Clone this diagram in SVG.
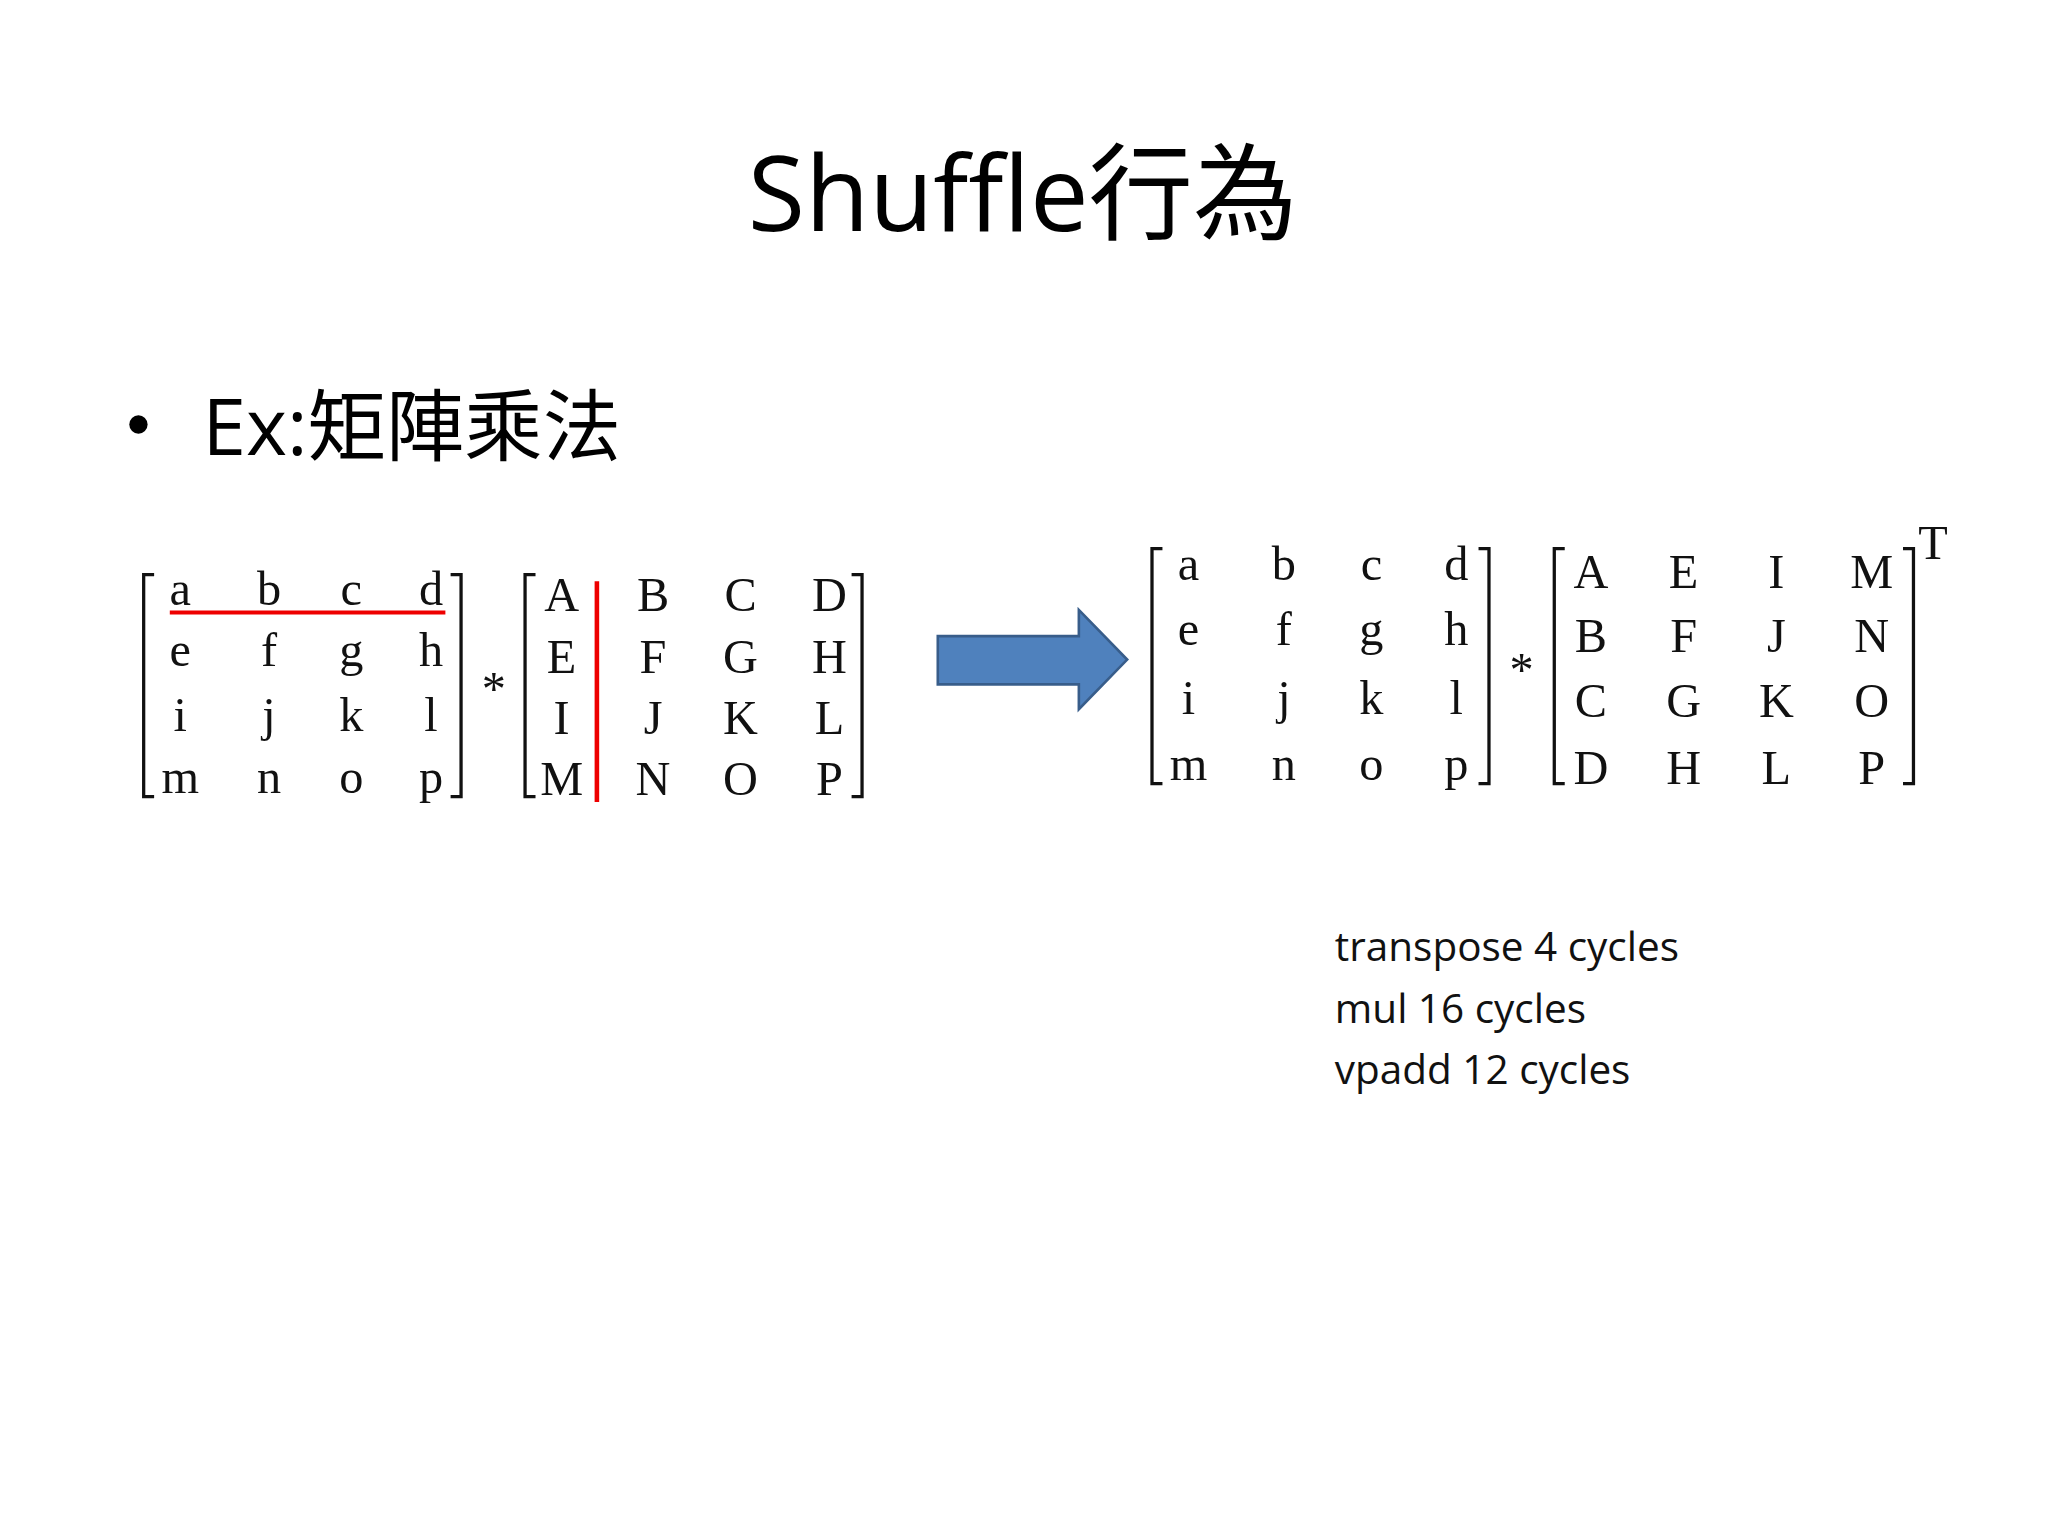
<svg xmlns="http://www.w3.org/2000/svg" width="2048" height="1536" viewBox="0 0 2048 1536">
<style>
.m{font-family:"Liberation Serif","DejaVu Serif",serif;font-size:37px;fill:#111;text-anchor:middle}
.br{fill:none;stroke:#111;stroke-width:2.5}
.t{font-family:"Open Sans","Noto Sans CJK TC",sans-serif;fill:#000}
.n{font-family:"Open Sans",sans-serif;font-size:31px;fill:#111}
</style>
<rect width="2048" height="1536" fill="#fff"/>
<g transform="scale(1.30612)">
<g id="title"><text class="t" x="783" y="177" font-size="80" text-anchor="middle">Shuffle行為</text></g>
<g id="bullet"><circle cx="106" cy="325" r="7" fill="#000"/><text class="t" x="155" y="348" font-size="60">Ex:矩陣乘法</text></g>
<g id="matrixA">
<path class="br" d="M118 440H110V610H118M345 440H353V610H345"/>
<text class="m"><tspan x="138" y="463">a</tspan><tspan x="206" y="463">b</tspan><tspan x="269" y="463">c</tspan><tspan x="330" y="463">d</tspan></text>
<text class="m"><tspan x="138" y="510">e</tspan><tspan x="206" y="510">f</tspan><tspan x="269" y="510">g</tspan><tspan x="330" y="510">h</tspan></text>
<text class="m"><tspan x="138" y="560">i</tspan><tspan x="206" y="560">j</tspan><tspan x="269" y="560">k</tspan><tspan x="330" y="560">l</tspan></text>
<text class="m"><tspan x="138" y="607">m</tspan><tspan x="206" y="607">n</tspan><tspan x="269" y="607">o</tspan><tspan x="330" y="607">p</tspan></text>
<line x1="130" y1="469" x2="341" y2="469" stroke="#e00" stroke-width="3"/>
</g>
<text class="m" x="378" y="540" font-size="28">*</text>
<g id="matrixB">
<path class="br" d="M410 440H402V610H410M652 440H660V610H652"/>
<text class="m"><tspan x="430" y="468">A</tspan><tspan x="500" y="468">B</tspan><tspan x="567" y="468">C</tspan><tspan x="635" y="468">D</tspan></text>
<text class="m"><tspan x="430" y="515">E</tspan><tspan x="500" y="515">F</tspan><tspan x="567" y="515">G</tspan><tspan x="635" y="515">H</tspan></text>
<text class="m"><tspan x="430" y="562">I</tspan><tspan x="500" y="562">J</tspan><tspan x="567" y="562">K</tspan><tspan x="635" y="562">L</tspan></text>
<text class="m"><tspan x="430" y="609">M</tspan><tspan x="500" y="609">N</tspan><tspan x="567" y="609">O</tspan><tspan x="635" y="609">P</tspan></text>
<line x1="457" y1="445" x2="457" y2="614" stroke="#e00" stroke-width="3.5"/>
</g>
<g id="connectors"><path d="M718 487H826V467L863 505L826 543V524H718Z" fill="#4f81bd" stroke="#385d8a" stroke-width="2"/></g>
<g id="matrixC">
<path class="br" d="M890 420H882V600H890M1132 420H1140V600H1132"/>
<text class="m"><tspan x="910" y="444">a</tspan><tspan x="983" y="444">b</tspan><tspan x="1050" y="444">c</tspan><tspan x="1115" y="444">d</tspan></text>
<text class="m"><tspan x="910" y="494">e</tspan><tspan x="983" y="494">f</tspan><tspan x="1050" y="494">g</tspan><tspan x="1115" y="494">h</tspan></text>
<text class="m"><tspan x="910" y="547">i</tspan><tspan x="983" y="547">j</tspan><tspan x="1050" y="547">k</tspan><tspan x="1115" y="547">l</tspan></text>
<text class="m"><tspan x="910" y="597">m</tspan><tspan x="983" y="597">n</tspan><tspan x="1050" y="597">o</tspan><tspan x="1115" y="597">p</tspan></text>
</g>
<text class="m" x="1165" y="525" font-size="28">*</text>
<g id="matrixD">
<path class="br" d="M1198 420H1190V600H1198M1457 420H1465V600H1457"/>
<text class="m"><tspan x="1218" y="450">A</tspan><tspan x="1289" y="450">E</tspan><tspan x="1360" y="450">I</tspan><tspan x="1433" y="450">M</tspan></text>
<text class="m"><tspan x="1218" y="499">B</tspan><tspan x="1289" y="499">F</tspan><tspan x="1360" y="499">J</tspan><tspan x="1433" y="499">N</tspan></text>
<text class="m"><tspan x="1218" y="549">C</tspan><tspan x="1289" y="549">G</tspan><tspan x="1360" y="549">K</tspan><tspan x="1433" y="549">O</tspan></text>
<text class="m"><tspan x="1218" y="600">D</tspan><tspan x="1289" y="600">H</tspan><tspan x="1360" y="600">L</tspan><tspan x="1433" y="600">P</tspan></text>
<text class="m" x="1480" y="428" font-size="26">T</text>
</g>
<g id="notes">
<text class="n" x="1022" y="736">transpose 4 cycles</text>
<text class="n" x="1022" y="783">mul 16 cycles</text>
<text class="n" x="1022" y="830">vpadd 12 cycles</text>
</g>
</g>
</svg>
